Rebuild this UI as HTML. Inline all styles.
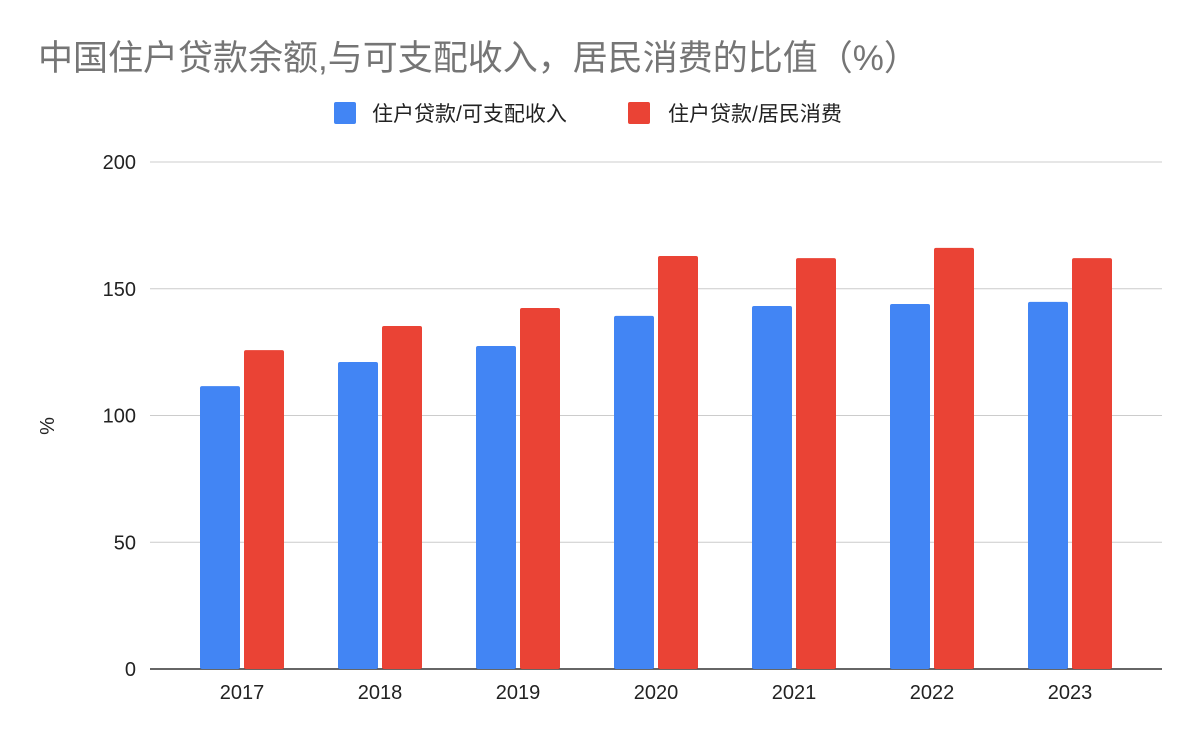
<!DOCTYPE html>
<html><head><meta charset="utf-8"><style>
body{margin:0;background:#fff;}
svg{display:block;font-family:"Liberation Sans","Noto Sans CJK SC",sans-serif;}
</style></head><body>
<svg id="chart" width="1200" height="742" viewBox="0 0 1200 742">
<rect width="1200" height="742" fill="#fff"/>
<text x="38" y="70" font-size="35" fill="#757575">中国住户贷款余额,与可支配收入，居民消费的比值（%）</text>
<g>
<rect x="334" y="102" width="22" height="22" rx="2" fill="#4285f4"/>
<text x="372" y="121" font-size="21" fill="#222">住户贷款/可支配收入</text>
<rect x="628" y="102" width="22" height="22" rx="2" fill="#ea4335"/>
<text x="668" y="121" font-size="21" fill="#222">住户贷款/居民消费</text>
</g>
<text transform="translate(54,426) rotate(-90)" text-anchor="middle" font-size="20" fill="#222">%</text>
<g id="grid"></g><g id="bars"></g><g id="xlabels"></g>
</svg>
<script>
const categories=["2017","2018","2019","2020","2021","2022","2023"];
const incomeRatio=[111.6,121.1,127.4,139.3,143.2,144.0,144.8];
const consumptionRatio=[125.8,135.3,142.4,162.9,162.1,166.1,162.1];
const yTicks=[0,50,100,150,200];
const NS="http://www.w3.org/2000/svg";
const y0=669,yTop=162,yMax=200;
const y=v=>y0-(v/yMax)*(y0-yTop);
const x=i=>242+i*138;
function mk(tag,attrs,parent){const e=document.createElementNS(NS,tag);for(const k in attrs)e.setAttribute(k,attrs[k]);parent.appendChild(e);return e;}
const grid=document.getElementById('grid'),bars=document.getElementById('bars'),xl=document.getElementById('xlabels');
yTicks.forEach(t=>{
 const l=mk('line',{x1:150,x2:1162,y1:y(t),y2:y(t),stroke:t===0?'#333':'#ccc','stroke-width':t===0?1.5:1},grid);
 
 
 const tx=mk('text',{x:136,y:y(t)+7,'text-anchor':'end','font-size':20,fill:'#222'},grid);
 tx.textContent=t;
 
 
});
categories.forEach((c,i)=>{
 const b1=mk('rect',{x:x(i)-42,y:y(incomeRatio[i]),width:40,height:y0-y(incomeRatio[i]),fill:'#4285f4',rx:2},bars);
 
 
 const b2=mk('rect',{x:x(i)+2,y:y(consumptionRatio[i]),width:40,height:y0-y(consumptionRatio[i]),fill:'#ea4335',rx:2},bars);
 
 
 const t=mk('text',{x:x(i),y:699,'text-anchor':'middle','font-size':20,fill:'#222'},xl);
 t.textContent=c;
 
 
});
grid.appendChild(grid.firstChild);
</script>
</body></html>
